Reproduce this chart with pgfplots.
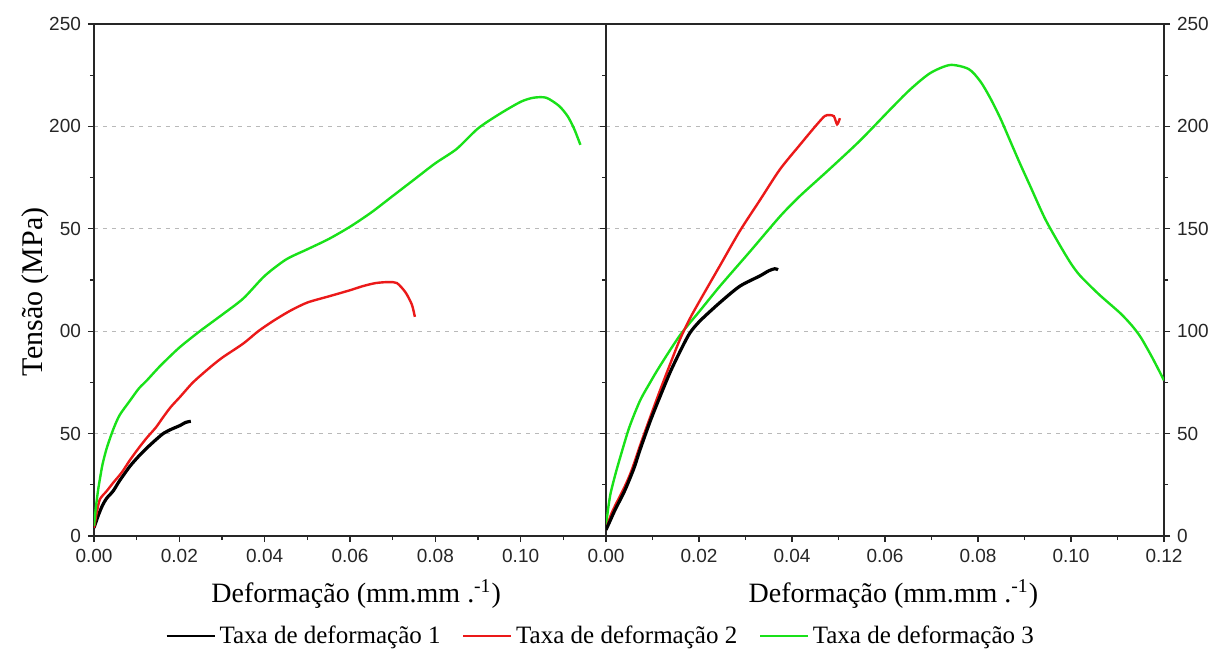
\documentclass[border=0pt]{standalone}
\usepackage{fontspec}
\setmainfont{Liberation Serif}
\setsansfont{Liberation Sans}
\usepackage{pgfplots}
\pgfplotsset{compat=1.18}

\definecolor{cgreen}{RGB}{25,225,25}
\definecolor{cred}{RGB}{235,25,25}

\pgfplotsset{
 common/.style={
  scale only axis, height=256pt, ymin=0, ymax=250, xmin=0, xmax=0.12,
  ytick={0,50,100,150,200,250}, minor ytick={25,75,125,175,225},
  tick align=outside, major tick length=3pt, minor tick length=2pt,
  axis line style={line width=0.8pt, black!85},
  every tick/.append style={black!85, line width=0.6pt},
  ymajorgrids, grid style={gray!55, line width=0.5pt, dash pattern=on 2pt off 2.5pt},
  tick label style={font=\sffamily\fontsize{9.5}{11}\selectfont, text=black!85},
  /pgf/number format/assume math mode=true,
  xticklabel style={/pgf/number format/.cd, fixed, fixed zerofill, precision=2},
  scaled x ticks=false,
  xtick pos=bottom,
  xlabel style={font=\fontsize{14}{16}\selectfont},
  every axis plot/.append style={smooth, tension=0.45},
 }
}

\begin{document}
\begin{tikzpicture}
\path[use as bounding box] (-47pt,-56.5pt) rectangle (560.5pt,268pt);
\begin{axis}[common, width=256pt, at={(0pt,0pt)}, anchor=south west,
 xtick={0,0.02,0.04,0.06,0.08,0.1}, minor xtick={0.01,0.03,0.05,0.07,0.09,0.11},
 ytick pos=left, yticklabels={0,50,00,50,200,250},
 xlabel={Deformação (mm.mm .\textsuperscript{-1})},
 xlabel style={at={(axis description cs:0.512,-0.113)}, anchor=center},
 ylabel={Tensão (MPa)},
 ylabel style={font=\fontsize{15}{17}\selectfont, at={(axis description cs:-0.115,0.477)}, anchor=center},
 legend columns=3,
 legend image code/.code={\draw[mark repeat=2,mark phase=2,#1] plot coordinates {(0pt,0pt) (12pt,0pt) (24pt,0pt)};},
 legend image post style={line width=0.8pt, sharp plot},
 legend style={at={(axis description cs:0.992,-0.195)}, anchor=center, draw=none, fill=none,
   font=\fontsize{12.5}{14}\selectfont, /tikz/every even column/.append style={column sep=9pt}},
]
\addplot[black, line width=1.6pt] coordinates {
(0,4) (0.001,10) (0.002,15) (0.003,18.5) (0.0045,22) (0.006,27) (0.0084,34) (0.0105,39)
(0.0124,43) (0.0145,47) (0.0162,50) (0.018,52) (0.0202,54) (0.0215,55.5) (0.0227,56)};
\addlegendentry{Taxa de deformação 1}
\addplot[cred, line width=1.2pt] coordinates {
(0,4) (0.0007,12) (0.0014,18) (0.003,22) (0.0045,26) (0.0065,31) (0.0084,37) (0.0105,43)
(0.0124,48) (0.0145,53) (0.0162,58) (0.018,63) (0.0202,68) (0.0232,75) (0.027,82) (0.03,87)
(0.035,94) (0.0385,100) (0.042,105) (0.046,110) (0.05,114) (0.055,117) (0.06,120) (0.063,122)
(0.066,123.5) (0.069,124) (0.071,123.5) (0.073,119) (0.0745,113) (0.0752,107)};
\addlegendentry{Taxa de deformação 2}
\addplot[cgreen, line width=1.2pt] coordinates {
(0,5) (0.0005,15) (0.001,23) (0.0014,28) (0.002,35) (0.003,43) (0.0045,52) (0.006,59)
(0.0084,66) (0.0105,72) (0.0124,76) (0.0155,83) (0.02,92) (0.0248,100) (0.03,108) (0.035,116)
(0.04,127) (0.045,135) (0.05,140) (0.055,145) (0.06,151) (0.065,158) (0.07,166) (0.075,174)
(0.08,182) (0.085,189) (0.09,199) (0.095,206) (0.1,212) (0.103,214) (0.106,214) (0.109,210)
(0.111,205) (0.1125,199) (0.114,191)};
\addlegendentry{Taxa de deformação 3}
\node[font=\sffamily\fontsize{8.5}{10}\selectfont] at (axis description cs:0.943,-0.107) {(a)};
\end{axis}
\begin{axis}[common, width=279pt, at={(256pt,0pt)}, anchor=south west,
 xtick={0,0.02,0.04,0.06,0.08,0.1,0.12}, minor xtick={0.01,0.03,0.05,0.07,0.09,0.11},
 ytick pos=both, yticklabel pos=right,
 xlabel={Deformação (mm.mm .\textsuperscript{-1})},
 xlabel style={at={(axis description cs:0.515,-0.113)}, anchor=center},
]
\addplot[cgreen, line width=1.2pt] coordinates {
(0,5) (0.0005,14) (0.001,21) (0.002,30) (0.003,38) (0.005,53) (0.0073,66) (0.0095,75)
(0.0116,83) (0.0159,98) (0.0202,110) (0.0245,122) (0.031,139) (0.0374,156) (0.0417,166)
(0.048,179) (0.0546,193) (0.061,208) (0.0654,218) (0.0697,226) (0.074,230) (0.078,228)
(0.0805,222) (0.0826,214) (0.0848,204) (0.0869,193) (0.089,182) (0.0912,171) (0.0944,155)
(0.0976,142) (0.1,133) (0.102,127) (0.106,118) (0.1105,109) (0.113,103) (0.115,97)
(0.1175,87) (0.12,76)};
\addplot[cred, line width=1.2pt] coordinates {
(0,3) (0.001,10) (0.002,15) (0.004,24) (0.0055,32) (0.0073,44) (0.0095,58) (0.0116,71)
(0.0138,84) (0.0159,96) (0.018,106) (0.0202,115) (0.0245,132) (0.0288,149) (0.0331,164)
(0.0374,179) (0.0417,191) (0.045,200) (0.047,205) (0.048,205.5) (0.049,205) (0.0497,201)
(0.0503,204)};
\addplot[black, line width=1.6pt] coordinates {
(0,3) (0.001,8) (0.002,13) (0.004,22) (0.006,33) (0.0073,42) (0.0095,56) (0.0116,68)
(0.0138,80) (0.0159,90) (0.018,99) (0.0202,105) (0.0245,114) (0.0288,122) (0.0331,127)
(0.035,129.5) (0.0363,130.5) (0.037,130)};
\node[font=\sffamily\fontsize{8.5}{10}\selectfont] at (axis description cs:0.944,-0.107) {(b)};
\end{axis}
\end{tikzpicture}
\end{document}
